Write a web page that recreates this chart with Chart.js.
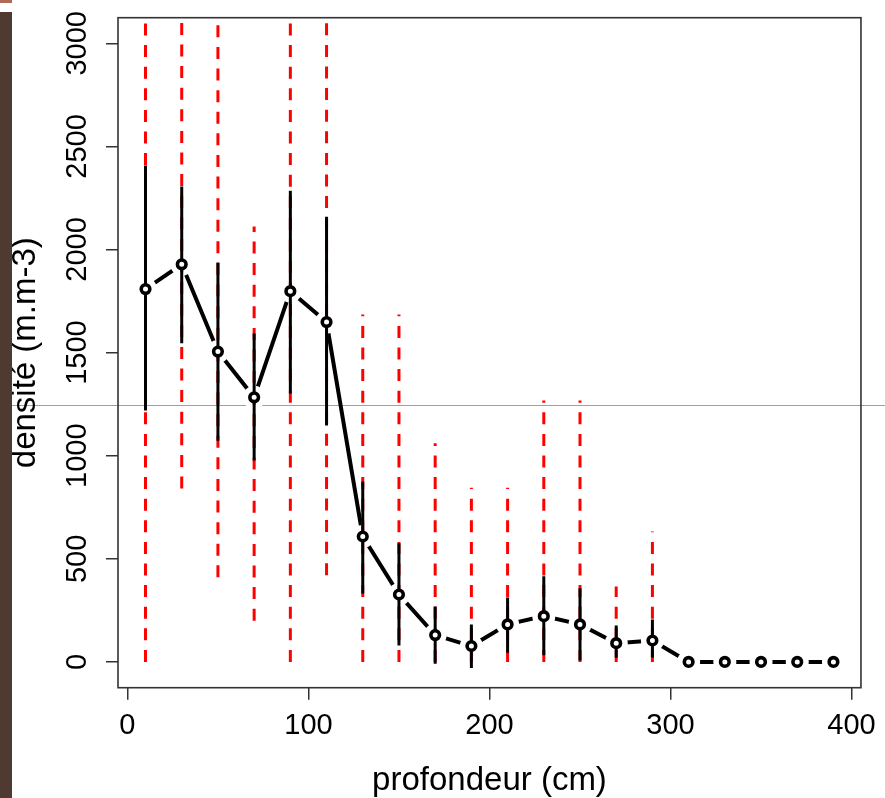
<!DOCTYPE html>
<html>
<head>
<meta charset="utf-8">
<script src="https://cdn.jsdelivr.net/npm/chart.js@4.4.1/dist/chart.umd.min.js"></script>
<style>
    html, body { margin: 0; padding: 0; background: #fff; }
    .page { position: relative; width: 885px; height: 798px; overflow: hidden; }
    .trait { position: absolute; left: 0; top: 405px; width: 885px; height: 1px; background: #a49e9c; z-index: 0; }
    .bande { position: absolute; left: 0; top: 12px; width: 12px; height: 786px; background: #4e3a31; z-index: 2; }
    .coin { position: absolute; left: 0; top: 0; width: 12px; height: 3px; background: #b06a55; z-index: 2; }
    canvas { position: absolute; left: 0; top: 0; z-index: 1; }
</style>
</head>
<body>
<div class="page">
    <div class="trait"></div>
    <canvas id="chartDensite" width="885" height="798"></canvas>
    <div class="bande"></div>
    <div class="coin"></div>
</div>
<script>
// ===== Données =====
const profondeur = [10, 30, 50, 70, 90, 110, 130, 150, 170, 190, 210, 230, 250, 270, 290, 310, 330, 350, 370, 390];
const densite    = [1808, 1928, 1505, 1283, 1798, 1648, 608, 327, 130, 77, 182, 222, 182, 91, 104, 0, 0, 0, 0, 0];
// barres noires (écart-type)
const basNoir  = [1219, 1545, 1073, 977, 1302, 1147, 332, 80, -9, -30, 45, 32, 7, 20, 22, null, null, null, null, null];
const hautNoir = [2407, 2305, 1937, 1592, 2285, 2159, 875, 575, 269, 182, 313, 415, 357, 177, 206, null, null, null, null, null];
// barres rouges pointillées (intervalle)
const basRouge  = [0, 841, 410, 200, 0, 420, 0, 0, 0, 0, 0, 0, 0, 0, 0, null, null, null, null, null];
const hautRouge = [3200, 3200, 3200, 2111, 3200, 3200, 1685, 1685, 1060, 845, 845, 1268, 1268, 366, 633, null, null, null, null, null];

const xTicks = [0, 100, 200, 300, 400];
const yTicks = [0, 500, 1000, 1500, 2000, 2500, 3000];

function segmentsVerticaux(bas, haut) {
    const pts = [];
    profondeur.forEach((x, i) => {
        if (bas[i] == null) return;
        pts.push({ x: x, y: bas[i] }, { x: x, y: haut[i] }, { x: x, y: null });
    });
    return pts;
}

const points = profondeur.map((x, i) => ({ x: x, y: densite[i] }));

// cadre autour de la zone de tracé (comme box() dans R)
const cadre = {
    id: 'cadre',
    afterDatasetsDraw(chart) {
        const { ctx, chartArea: a } = chart;
        ctx.save();
        ctx.strokeStyle = '#333';
        ctx.lineWidth = 1.6;
        ctx.strokeRect(a.left, a.top, a.right - a.left, a.bottom - a.top);
        ctx.restore();
    }
};

Chart.defaults.font.family = '"Liberation Sans", Arial, sans-serif';
Chart.defaults.color = '#000';

new Chart(document.getElementById('chartDensite'), {
    type: 'line',
    data: {
        datasets: [
            {   // ligne moyenne (type="b")
                data: points,
                borderColor: '#000',
                borderWidth: 4,
                borderCapStyle: 'round',
                pointRadius: 0,
                order: 5,
            },
            {   // espace blanc autour des points
                data: points,
                showLine: false,
                pointRadius: 11.5,
                pointBorderWidth: 0,
                pointBackgroundColor: '#fff',
                pointBorderColor: '#fff',
                order: 4,
            },
            {
                data: segmentsVerticaux(basRouge, hautRouge),
                borderColor: '#ff0000',
                borderWidth: 3,
                borderDash: [12, 9.6],
                borderCapStyle: 'butt',
                pointRadius: 0,
                clip: 0,
                order: 3,
            },
            {
                data: segmentsVerticaux(basNoir, hautNoir),
                borderColor: '#000',
                borderWidth: 3,
                borderCapStyle: 'butt',
                pointRadius: 0,
                clip: 0,
                order: 2,
            },
            {
                data: points,
                showLine: false,
                pointRadius: 4.3,
                pointBorderWidth: 3.6,
                pointBackgroundColor: '#fff',
                pointBorderColor: '#000',
                order: 1,
            }
        ]
    },
    options: {
        responsive: false,
        animation: false,
        devicePixelRatio: 1,
        events: [],
        layout: { padding: { top: 17.7, right: 20, left: 0, bottom: 0 } },
        plugins: {
            legend: { display: false },
            tooltip: { enabled: false }
        },
        scales: {
            x: {
                type: 'linear',
                min: -5.2,
                max: 405.2,
                afterBuildTicks: s => { s.ticks = xTicks.map(v => ({ value: v })); },
                afterFit: s => { s.height = 110.3; },
                grid: { drawOnChartArea: false, drawTicks: true, tickLength: 12, color: '#333', lineWidth: 1.5 },
                border: { display: false },
                ticks: { font: { size: 29 }, padding: 9, maxRotation: 0, autoSkip: false, color: '#000', callback: v => String(v) },
                title: { display: true, text: 'profondeur (cm)', font: { size: 33, lineHeight: 1 }, padding: { top: 0, bottom: 1 }, color: '#000' }
            },
            y: {
                type: 'linear',
                min: -125,
                max: 3124,
                afterBuildTicks: s => { s.ticks = yTicks.map(v => ({ value: v })); },
                afterFit: s => { s.width = 118; },
                grid: { drawOnChartArea: false, drawTicks: true, tickLength: 12, color: '#333', lineWidth: 1.5 },
                border: { display: false },
                ticks: { font: { size: 29 }, padding: -4.75, minRotation: 90, maxRotation: 90, crossAlign: 'center', autoSkip: false, color: '#000', callback: v => String(v) },
                title: { display: true, text: 'densité (m.m-3)', font: { size: 33, lineHeight: 1 }, padding: { top: 9.7, bottom: 0 }, color: '#000' }
            }
        }
    },
    plugins: [cadre]
});
</script>
</body>
</html>
